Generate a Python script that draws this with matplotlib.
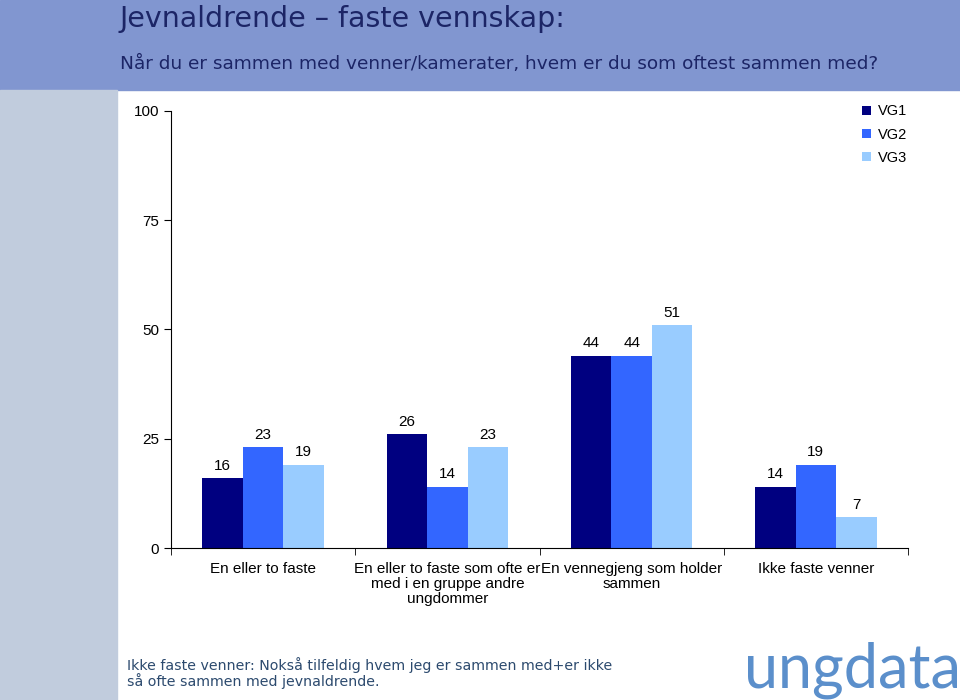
import matplotlib.pyplot as plt
import numpy as np
from matplotlib.patches import Rectangle

# Data
categories = ["En eller to faste",
              "En eller to faste som ofte er\nmed i en gruppe andre\nungdommer",
              "En vennegjeng som holder\nsammen",
              "Ikke faste venner"]
series_names = ["VG1", "VG2", "VG3"]
vg1 = [16, 26, 44, 14]
vg2 = [23, 14, 44, 19]
vg3 = [19, 23, 51, 7]
colors = ["#000080", "#3366FF", "#99CCFF"]

fig = plt.figure(figsize=(9.6, 7), dpi=100)

# Background: banner on top and strip on left
fig.patches.append(Rectangle((0, 1 - 90 / 700), 1, 90 / 700, transform=fig.transFigure,
                             color="#8196D0", zorder=0))
fig.patches.append(Rectangle((0, 0), 117 / 960, 1 - 90 / 700, transform=fig.transFigure,
                             color="#C1CCDD", zorder=0))

fig.text(120 / 960, 1 - 19 / 700, "Jevnaldrende \u2013 faste vennskap:", fontsize=20.5,
         color="#1C2566", va="center", ha="left")
fig.text(120 / 960, 1 - 64 / 700, "Når du er sammen med venner/kamerater, hvem er du som oftest sammen med?",
         fontsize=13.3, color="#1C2566", va="center", ha="left")

ax = fig.add_axes([171 / 960, 1 - 548 / 700, (908 - 171) / 960, (548 - 111) / 700])

x = np.arange(len(categories))
w = 0.22
for i, (vals, name) in enumerate(zip([vg1, vg2, vg3], series_names)):
    bars = ax.bar(x + (i - 1) * w, vals, width=w, color=colors[i], label=name)
    ax.bar_label(bars, padding=4, fontsize=11, family="Liberation Sans")

ax.set_xlim(-0.5, len(categories) - 0.5)
ax.set_ylim(0, 100)
ax.set_yticks([0, 25, 50, 75, 100])
ax.set_yticklabels(["0", "25", "50", "75", "100"], fontsize=11, family="Liberation Sans")
ax.set_xticks(x)
ax.set_xticklabels(categories, fontsize=11, family="Liberation Sans", linespacing=1.1)
ax.tick_params(axis="x", length=0, pad=10)
ax.set_xticks(np.arange(len(categories) + 1) - 0.5, minor=True)
ax.tick_params(axis="x", which="minor", length=5)
ax.tick_params(axis="y", length=5)
for s in ["top", "right"]:
    ax.spines[s].set_visible(False)

ax.legend(loc="upper left", bbox_to_anchor=(0.92, 1.045), frameon=False,
          prop={"family": "Liberation Sans", "size": 10.5},
          handlelength=0.6, handleheight=0.6, handletextpad=0.5, labelspacing=0.62)

fig.text(127 / 960, 1 - 673 / 700,
         "Ikke faste venner: Nokså tilfeldig hvem jeg er sammen med+er ikke\nså ofte sammen med jevnaldrende.",
         fontsize=10.2, color="#2C4A6E", va="center", ha="left", linespacing=0.95)

fig.text(744 / 960, 1 - 670 / 700, "ungdata", fontsize=44, color="#5B8FCB",
         va="center", ha="left", family=["Lato", "DejaVu Sans"])

fig.savefig("out.png", dpi=100)
